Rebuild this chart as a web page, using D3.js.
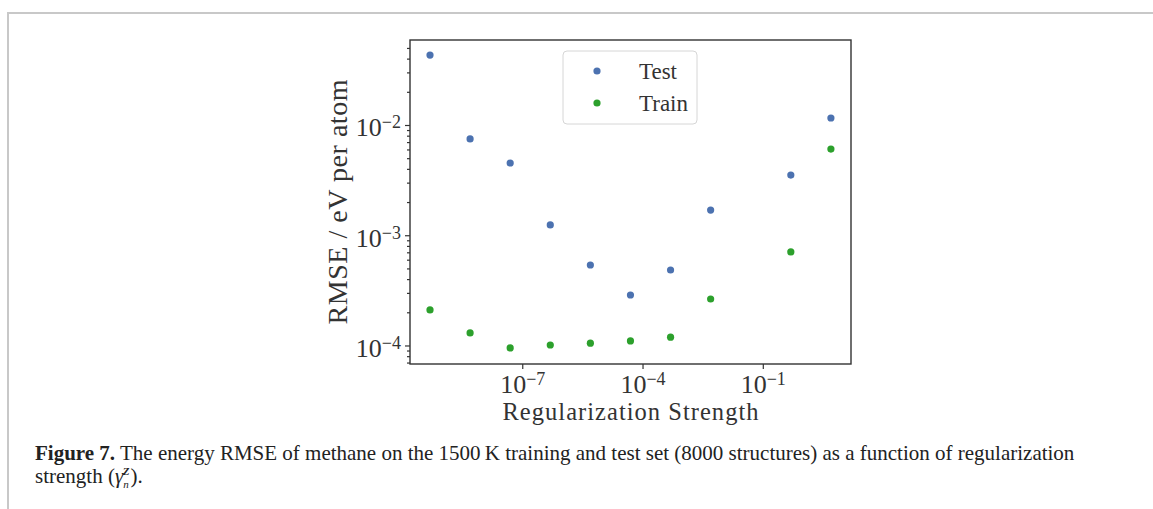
<!DOCTYPE html>
<html>
<head>
<meta charset="utf-8">
<script src="https://cdn.jsdelivr.net/npm/d3@7"></script>
<style>
  body { margin: 0; background: #fff; }
  svg { display: block; }
  .serif { font-family: "Liberation Serif", "DejaVu Serif", serif; fill: #333; }
</style>
</head>
<body>
<svg width="1153" height="509"></svg>
<script>
// regularization strengths (x) and RMSE values
const strengths = [5e-10, 5e-9, 5e-8, 5e-7, 5e-6, 5e-5, 5e-4, 5e-3, 5e-1, 5];
const testRmse = [0.0431, 0.00747, 0.00452, 0.00124, 5.37e-4, 2.87e-4, 4.84e-4, 1.69e-3, 3.51e-3, 0.01157];
const trainRmse = [2.10e-4, 1.30e-4, 9.5e-5, 1.01e-4, 1.05e-4, 1.10e-4, 1.19e-4, 2.64e-4, 7.05e-4, 6.05e-3];
const xTickVals = [1e-7, 1e-4, 1e-1];
const yTickVals = [1e-4, 1e-3, 1e-2];
const seriesNames = ["Test", "Train"];
const seriesColors = ["#4c72b0", "#2ca02c"];

const svg = d3.select("svg");

const plot = { left: 410, right: 851, top: 40, bottom: 364 };

// page frame
svg.append("path")
  .attr("d", "M8,509 V13 H1153")
  .attr("fill", "none")
  .attr("stroke", "#c8c8c8")
  .attr("stroke-width", 2);

const x = d3.scaleLog()
  .domain([Math.pow(10, -9.8), Math.pow(10, 1.2)])
  .range([plot.left, plot.right]);

const y = d3.scaleLog()
  .domain([Math.pow(10, -4.168), Math.pow(10, -1.229)])
  .range([plot.bottom, plot.top]);

// minor y ticks
const yMinor = [];
for (let e = -5; e <= -1; e++) {
  for (let m = 2; m <= 9; m++) {
    const v = m * Math.pow(10, e);
    if (v >= y.domain()[0] && v <= y.domain()[1]) yMinor.push(v);
  }
}

const axisColor = "#333";

svg.append("g")
  .attr("transform", `translate(${plot.left},0)`)
  .call(d3.axisLeft(y).tickValues(yMinor).tickSize(3).tickFormat(""))
  .call(g => g.select(".domain").remove())
  .selectAll("line").attr("stroke", axisColor).attr("stroke-width", 1.2);

function expLabel(sel) {
  sel.selectAll(".tick text").each(function(d) {
    const t = d3.select(this);
    const e = Math.round(Math.log10(d));
    t.text(null);
    t.append("tspan").text("10");
    t.append("tspan")
      .attr("dy", "-0.45em")
      .attr("font-size", "18px")
      .text("\u2212" + Math.abs(e));
  });
}

const yAxis = svg.append("g")
  .attr("transform", `translate(${plot.left},0)`)
  .call(d3.axisLeft(y).tickValues(yTickVals).tickSize(5).tickPadding(4));
yAxis.select(".domain").remove();
yAxis.selectAll("line").attr("stroke", axisColor).attr("stroke-width", 1.2);
yAxis.selectAll("text")
  .attr("class", "serif")
  .attr("font-size", "26px")
  .attr("fill", "#333")
  .attr("dy", "0.42em");
expLabel(yAxis);

const xAxis = svg.append("g")
  .attr("transform", `translate(0,${plot.bottom})`)
  .call(d3.axisBottom(x).tickValues(xTickVals).tickSize(5).tickPadding(3));
xAxis.select(".domain").remove();
xAxis.selectAll("line").attr("stroke", axisColor).attr("stroke-width", 1.2);
xAxis.selectAll("text")
  .attr("class", "serif")
  .attr("font-size", "26px")
  .attr("fill", "#333")
  .attr("dy", "0.82em");
expLabel(xAxis);

// spines
svg.append("rect")
  .attr("x", plot.left)
  .attr("y", plot.top)
  .attr("width", plot.right - plot.left)
  .attr("height", plot.bottom - plot.top)
  .attr("fill", "none")
  .attr("stroke", axisColor)
  .attr("stroke-width", 1.4);

// points
const series = [testRmse, trainRmse];
series.forEach((vals, k) => {
  svg.append("g")
    .selectAll("circle")
    .data(vals)
    .enter()
    .append("circle")
    .attr("cx", (d, i) => x(strengths[i]))
    .attr("cy", d => y(d))
    .attr("r", 3.6)
    .attr("fill", seriesColors[k]);
});

// legend
const legend = svg.append("g").attr("transform", "translate(563,51)");
legend.append("rect")
  .attr("width", 134)
  .attr("height", 73)
  .attr("rx", 4)
  .attr("fill", "#fff")
  .attr("fill-opacity", 0.8)
  .attr("stroke", "#d6d6d6")
  .attr("stroke-width", 1);
seriesNames.forEach((name, k) => {
  legend.append("circle")
    .attr("cx", 34)
    .attr("cy", 20 + k * 32)
    .attr("r", 3.6)
    .attr("fill", seriesColors[k]);
  legend.append("text")
    .attr("class", "serif")
    .attr("x", 76)
    .attr("y", 20 + k * 32)
    .attr("dy", "0.35em")
    .attr("font-size", "23px")
    .text(name);
});

// axis titles
svg.append("text")
  .attr("class", "serif")
  .attr("x", (plot.left + plot.right) / 2)
  .attr("y", 420)
  .attr("text-anchor", "middle")
  .attr("font-size", "24.5px")
  .attr("textLength", 256)
  .text("Regularization Strength");

svg.append("text")
  .attr("class", "serif")
  .attr("transform", `translate(347,${(plot.top + plot.bottom) / 2}) rotate(-90)`)
  .attr("text-anchor", "middle")
  .attr("font-size", "28px")
  .attr("textLength", 245)
  .text("RMSE / eV per atom");

// caption
const cap = svg.append("text")
  .attr("x", 35)
  .attr("y", 460)
  .attr("font-family", "Liberation Serif, serif")
  .attr("font-size", "21px")
  .attr("fill", "#222");
cap.append("tspan").attr("font-weight", "bold").text("Figure 7.");
cap.append("tspan").text(" The energy RMSE of methane on the 1500\u2009K training and test set (8000 structures) as a function of regularization");

const cap2 = svg.append("text")
  .attr("x", 35)
  .attr("y", 483)
  .attr("font-family", "Liberation Serif, serif")
  .attr("font-size", "21px")
  .attr("fill", "#222");
cap2.append("tspan").text("strength (");
cap2.append("tspan").attr("font-style", "italic").text("\u03b3");
cap2.append("tspan").attr("font-style", "italic").attr("font-size", "11px").attr("dy", "5").text("n");
cap2.append("tspan").attr("font-weight", "bold").attr("font-style", "italic").attr("font-size", "11px").attr("dx", "-6").attr("dy", "-13").text("Z");
cap2.append("tspan").attr("dx", "1").attr("dy", "8").text(").");
</script>
</body>
</html>
